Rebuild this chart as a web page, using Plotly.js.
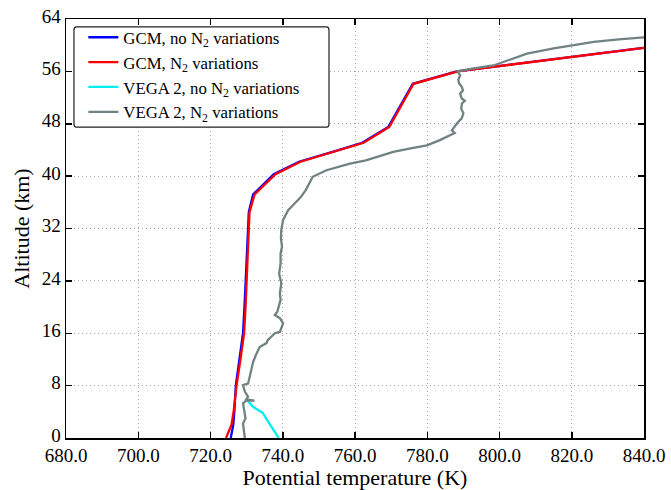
<!DOCTYPE html>
<html>
<head>
<meta charset="utf-8">
<script src="https://cdn.plot.ly/plotly-3.0.1.min.js"></script>
<style>html,body{margin:0;padding:0;background:#fff;}#chart{width:671px;height:490px;}</style>
</head>
<body>
<div id="chart"></div>
<script>
// GCM, no N2 variations
const gcmNoN2Alt  = [0, 1, 2, 4, 8, 12, 16, 20, 24, 28, 32, 34.5, 37.2, 40.3, 42.2, 43.7, 45.1, 47.5, 54.1, 56.0, 59.6];
const gcmNoN2Temp = [725.6, 726.0, 726.3, 726.6, 727.0, 728.0, 729.0, 729.4, 729.8, 730.1, 730.4, 730.6, 731.8, 737.5, 744.5, 753.8, 762.0, 769.2, 776.0, 788.2, 839.8];
// GCM, N2 variations
const gcmN2Alt  = [0, 1, 2, 4, 8, 12, 16, 20, 24, 28, 32, 34.5, 37.2, 40.3, 42.2, 43.7, 45.1, 47.5, 54.1, 56.0, 59.6];
const gcmN2Temp = [724.3, 725.0, 725.8, 726.4, 727.2, 728.3, 729.3, 729.7, 730.0, 730.3, 730.6, 730.8, 732.2, 738.0, 744.9, 754.2, 762.4, 769.5, 776.2, 788.4, 840.0];
// VEGA 2, no N2 variations
const vegaNoN2Alt  = [5.7, 5.5, 4.8, 3.8, 2.2, 1.0, 0.2, 0];
const vegaNoN2Temp = [730.4, 730.6, 731.7, 734.5, 736.3, 737.7, 738.6, 738.9];
// VEGA 2, N2 variations
const vegaN2Alt  = [0.0, 1.0, 2.2, 3.0, 3.8, 4.6, 5.3, 5.7, 5.7, 5.9, 6.3, 7.1, 8.1, 8.3, 9.4, 10.4, 11.6, 12.6, 13.4, 13.9, 14.5, 15.0, 15.5, 16.0, 16.2, 16.7, 17.5, 18.3, 18.8, 19.3, 19.8, 21.1, 22.1, 23.6, 25.1, 26.7, 28.2, 29.2, 30.5, 31.8, 33.3, 34.3, 34.8, 35.6, 36.3, 36.8, 37.9, 38.9, 39.9, 40.9, 41.5, 41.9, 42.4, 42.9, 43.7, 44.2, 44.7, 45.5, 46.3, 46.6, 47.0, 47.3, 48.3, 48.8, 49.6, 50.3, 51.1, 51.5, 51.9, 52.6, 53.1, 53.6, 54.2, 54.7, 55.4, 56.0, 56.4, 56.9, 57.8, 58.7, 59.5, 60.0, 60.5, 60.9, 61.2];
const vegaN2Temp = [729.5, 729.3, 729.0, 729.7, 729.5, 729.1, 729.0, 729.9, 732.2, 729.9, 730.4, 729.5, 729.0, 730.4, 730.9, 731.3, 731.8, 732.5, 733.2, 733.6, 735.5, 735.9, 736.9, 737.8, 739.2, 739.6, 740.1, 739.2, 737.8, 738.5, 738.7, 739.4, 739.2, 739.6, 739.0, 739.4, 739.4, 739.8, 739.5, 739.6, 740.1, 741.0, 741.5, 742.9, 744.0, 745.0, 746.4, 747.3, 748.3, 752.1, 756.0, 758.6, 763.0, 766.0, 770.6, 775.0, 779.9, 783.5, 786.8, 787.6, 786.8, 787.2, 788.6, 789.5, 790.0, 789.4, 789.6, 790.4, 789.5, 789.1, 789.9, 789.6, 788.8, 788.6, 789.1, 788.4, 792.0, 798.3, 803.0, 807.6, 815.0, 820.5, 826.1, 833.0, 840.0];

const xTicks = [680, 700, 720, 740, 760, 780, 800, 820, 840];
const yTicks = [0, 8, 16, 24, 32, 40, 48, 56, 64];
const names = ['GCM, no N<sub>2</sub> variations', 'GCM, N<sub>2</sub> variations', 'VEGA 2, no N<sub>2</sub> variations', 'VEGA 2, N<sub>2</sub> variations'];

const FONT = 'Liberation Serif, Times New Roman, serif';
const traces = [
  {x: gcmNoN2Temp, y: gcmNoN2Alt, name: names[0], mode: 'lines', line: {color: '#0000ff', width: 2.3}},
  {x: gcmN2Temp, y: gcmN2Alt, name: names[1], mode: 'lines', line: {color: '#ff0000', width: 2.3}},
  {x: vegaNoN2Temp, y: vegaNoN2Alt, name: names[2], mode: 'lines', line: {color: '#00eef0', width: 2.3}},
  {x: vegaN2Temp, y: vegaN2Alt, name: names[3], mode: 'lines', line: {color: '#708282', width: 2.3}}
];

const axisCommon = {
  showline: true, linecolor: '#000', linewidth: 1.5, mirror: 'ticks',
  ticks: 'inside', ticklen: 6, tickwidth: 1.5, tickcolor: '#000',
  showgrid: true, gridcolor: '#a8a8a8', griddash: '1px,3px', gridwidth: 1,
  zeroline: false, tickfont: {family: FONT, size: 19, color: '#000'}
};

const layout = {
  width: 671, height: 490,
  margin: {l: 66, r: 27, t: 19, b: 52},
  paper_bgcolor: '#fff', plot_bgcolor: '#fff',
  font: {family: FONT, color: '#000'},
  xaxis: Object.assign({}, axisCommon, {
    range: [680, 840], tickvals: xTicks, ticktext: xTicks.map(v => v.toFixed(1)),
    title: {text: 'Potential temperature (K)', font: {family: FONT, size: 22}, standoff: 3}
  }),
  yaxis: Object.assign({}, axisCommon, {
    range: [0, 64], tickvals: yTicks, ticktext: yTicks.map(String),
    ticklabelshift: -3,
    title: {text: 'Altitude (km)', font: {family: FONT, size: 22}, standoff: 6}
  }),
  showlegend: true,
  legend: {
    x: 0.03, y: 0.998, xanchor: 'left', yanchor: 'top',
    bgcolor: 'rgba(0,0,0,0)', borderwidth: 0,
    font: {family: FONT, size: 16.8, color: '#000'}
  },
  shapes: [{
    type: 'path', xref: 'paper', yref: 'paper',
    path: 'M 0.0138 0.973 L 0.0138 0.750 Q 0.0138 0.742 0.0178 0.742 L 0.451 0.742 Q 0.455 0.742 0.455 0.750 L 0.455 0.973 Q 0.455 0.981 0.451 0.981 L 0.0178 0.981 Q 0.0138 0.981 0.0138 0.973 Z',
    fillcolor: '#fff', line: {color: '#222', width: 1.2}, layer: 'above'
  }]
};

Plotly.newPlot('chart', traces, layout, {displayModeBar: false, staticPlot: true});
</script>
</body>
</html>
